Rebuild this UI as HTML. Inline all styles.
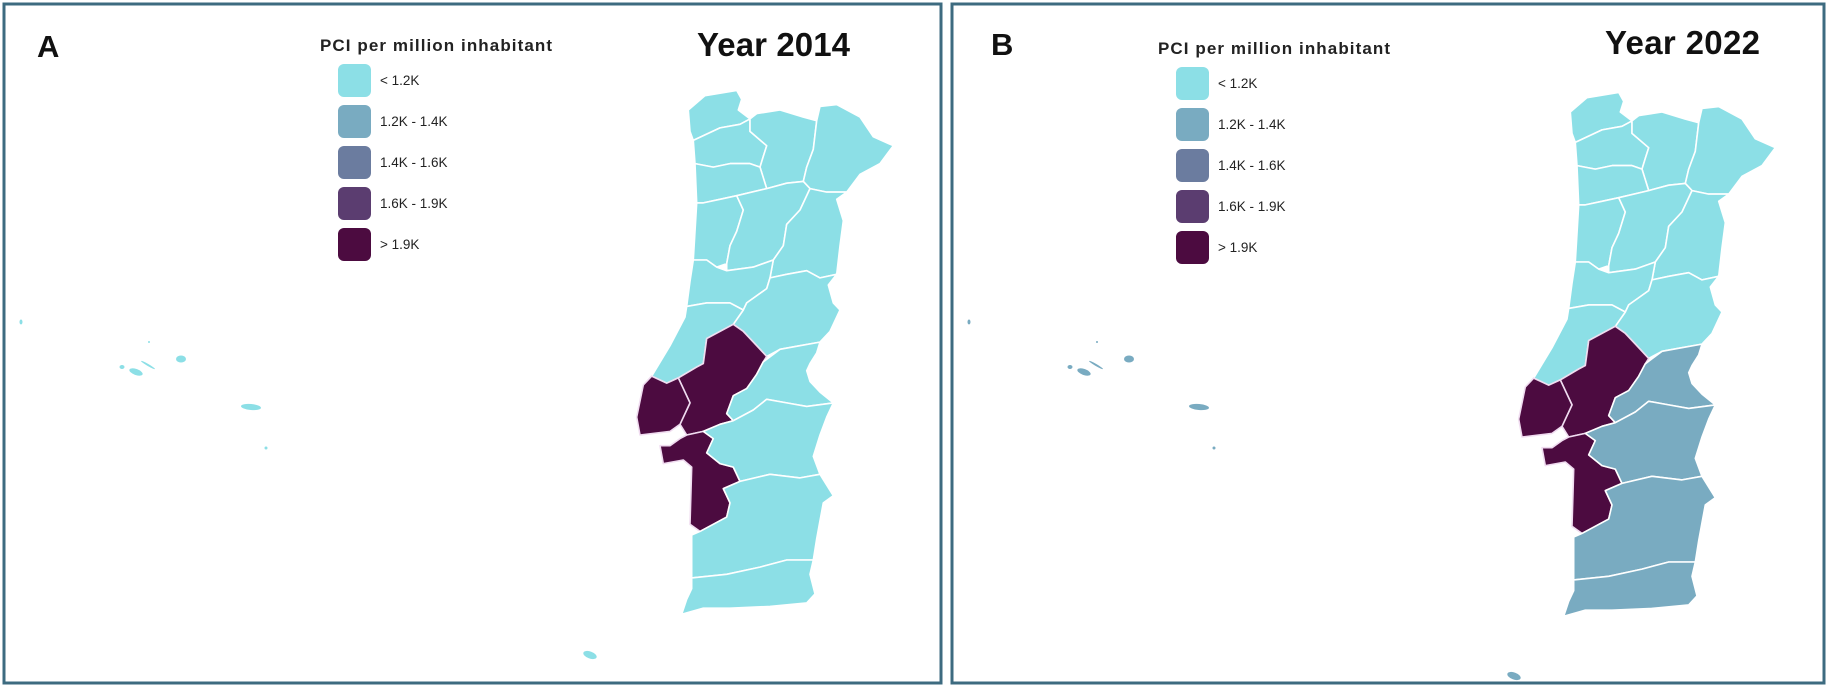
<!DOCTYPE html>
<html><head><meta charset="utf-8">
<style>
html,body{margin:0;padding:0;background:#fff;}
svg{display:block;font-family:"Liberation Sans",sans-serif;}
</style></head>
<body>
<svg id="fig" width="1830" height="689" viewBox="0 0 1830 689" xmlns="http://www.w3.org/2000/svg">
<rect x="0" y="0" width="1830" height="689" fill="#fff"/>
<rect x="4" y="4" width="937" height="679" fill="#fff" stroke="#3d6b80" stroke-width="3"/>
<rect x="952" y="4" width="872" height="679" fill="#fff" stroke="#3d6b80" stroke-width="3"/>
<text x="37" y="57" font-size="31" font-weight="bold" fill="#111">A</text>
<text x="991" y="55" font-size="31" font-weight="bold" fill="#111">B</text>
<text x="697" y="56" font-size="33" font-weight="bold" fill="#111" textLength="153">Year 2014</text>
<text x="1605" y="54" font-size="33" font-weight="bold" fill="#111" textLength="155">Year 2022</text>
<g id="mapA"></g>
<g id="mapB"></g>
<g id="legA"></g>
<g id="legB"></g>
</svg>
<script>
// ---- data ----
const classLabels = ["< 1.2K", "1.2K - 1.4K", "1.4K - 1.6K", "1.6K - 1.9K", "> 1.9K"];
const classColors = ["#8cdfe6", "#79abc1", "#6b7c9f", "#5b3d70", "#4c0b40"];
const districts = ["viana-do-castelo","braga","vila-real","braganca","porto","aveiro","viseu","guarda","coimbra","castelo-branco","leiria","santarem","lisboa","setubal","portalegre","evora","beja","faro","azores","madeira"];
const class2014 = [0,0,0,0,0,0,0,0,0,0,0,4,4,4,0,0,0,0,0,0];
const class2022 = [0,0,0,0,0,0,0,0,0,0,0,4,4,4,1,1,1,1,1,1];

// ---- geometry (shape outlines, local map coords) ----
const shapes = {
 "viana-do-castelo":[[205,140],[255,100],[350,85],[365,110],[355,140],[390,165],[360,180],[300,190],[220,225],[210,200]],
 "braga":[[220,225],[300,190],[360,180],[390,165],[390,200],[440,240],[430,270],[420,300],[390,290],[330,290],[280,300],[225,290]],
 "vila-real":[[390,165],[410,150],[480,140],[550,160],[590,170],[580,250],[560,300],[550,340],[500,345],[440,360],[420,300],[430,270],[440,240],[390,200]],
 "braganca":[[590,170],[600,130],[650,125],[720,160],[760,215],[820,240],[780,290],[720,320],[680,370],[620,370],[570,360],[550,340],[560,300],[580,250]],
 "porto":[[225,290],[280,300],[330,290],[390,290],[420,300],[440,360],[350,380],[300,390],[250,400],[230,400]],
 "aveiro":[[230,400],[250,400],[300,390],[350,380],[370,420],[350,480],[330,520],[320,570],[290,580],[260,560],[220,560]],
 "viseu":[[350,380],[440,360],[500,345],[550,340],[570,360],[540,420],[500,460],[490,520],[460,560],[400,580],[320,590],[320,570],[330,520],[350,480],[370,420]],
 "guarda":[[570,360],[620,370],[680,370],[650,390],[670,450],[660,520],[650,600],[600,610],[560,590],[500,600],[450,610],[460,560],[490,520],[500,460],[540,420]],
 "coimbra":[[220,560],[260,560],[290,580],[320,590],[400,580],[460,560],[450,610],[440,640],[380,680],[370,700],[330,680],[260,680],[200,690],[210,620]],
 "castelo-branco":[[450,610],[500,600],[560,590],[600,610],[650,600],[625,630],[640,680],[660,700],[630,760],[600,790],[540,800],[480,810],[440,830],[400,790],[370,760],[340,740],[370,700],[380,680],[440,640]],
 "leiria":[[200,690],[260,680],[330,680],[370,700],[340,740],[300,760],[260,780],[250,850],[230,860],[175,890],[140,905],[95,885],[150,800],[195,720]],
 "santarem":[[260,780],[300,760],[340,740],[370,760],[400,790],[440,830],[430,845],[410,880],[380,920],[340,940],[320,990],[340,1010],[300,1020],[250,1040],[200,1050],[180,1020],[210,960],[175,890],[230,860],[250,850]],
 "lisboa":[[60,1050],[50,1000],[70,910],[95,885],[140,905],[175,890],[210,960],[180,1020],[150,1040]],
 "setubal":[[120,1080],[130,1130],[190,1120],[215,1140],[210,1300],[240,1320],[320,1280],[330,1240],[310,1200],[360,1180],[340,1140],[300,1130],[260,1100],[280,1060],[250,1040],[200,1050],[180,1060],[150,1080]],
 "portalegre":[[340,940],[380,920],[410,880],[430,845],[480,810],[540,800],[600,790],[590,820],[570,850],[560,870],[570,900],[600,930],[640,960],[560,970],[500,960],[440,950],[400,980],[340,1010],[320,990]],
 "evora":[[340,1010],[400,980],[440,950],[500,960],[560,970],[640,960],[620,1000],[600,1050],[580,1110],[600,1160],[540,1170],[450,1160],[360,1180],[340,1140],[300,1130],[260,1100],[280,1060],[250,1040],[300,1020]],
 "beja":[[360,1180],[450,1160],[540,1170],[600,1160],[640,1220],[610,1240],[600,1290],[590,1340],[580,1400],[500,1400],[420,1420],[320,1440],[215,1450],[215,1330],[240,1320],[320,1280],[330,1240],[310,1200]],
 "faro":[[215,1450],[320,1440],[420,1420],[500,1400],[580,1400],[570,1440],[585,1495],[560,1520],[450,1530],[330,1535],[250,1535],[185,1552],[200,1510],[215,1480]]
};
// island ellipses: [cx, cy, rx, ry, rot] in panel-A absolute coords
const azoresIsl = [[21,322,1.5,2.5,0],[149,342,1,1,0],[122,367,2.5,2,0],[136,372,7,3,20],[148,365,8,1,30],[181,359,5,3.5,0],[251,407,10,3,5],[266,448,1.5,1.5,0]];

const NS = "http://www.w3.org/2000/svg";
function color(c){ return classColors[c]; }
function drawMap(g, classes, dx, dy, islDx, madeiraPos){
  const X = zx => 620 + zx/3 + dx;
  const Y = zy => 60 + zy/2.8 + dy;
  districts.forEach((d,i)=>{
    if(!shapes[d]) return;
    const p = document.createElementNS(NS,"polygon");
    p.setAttribute("points", shapes[d].map(q=>X(q[0]).toFixed(1)+","+Y(q[1]).toFixed(1)).join(" "));
    p.setAttribute("fill", color(classes[i]));
    p.setAttribute("stroke", classes[i]===4 ? "#f0dcf0" : "#ffffff");
    p.setAttribute("stroke-width","1.6");
    p.setAttribute("stroke-linejoin","round");
    
    
    g.appendChild(p);
  });
  const isl = (arr, ci, name, ox)=>arr.forEach(e=>{
    const el = document.createElementNS(NS,"ellipse");
    el.setAttribute("cx", e[0]+ox); el.setAttribute("cy", e[1]);
    el.setAttribute("rx", e[2]); el.setAttribute("ry", e[3]);
    el.setAttribute("transform", "rotate("+e[4]+" "+(e[0]+ox)+" "+e[1]+")");
    el.setAttribute("fill", color(classes[ci]));
    
    
    g.appendChild(el);
  });
  isl(azoresIsl, districts.indexOf("azores"), "azores-island", islDx);
  isl([[madeiraPos[0],madeiraPos[1],7,3.5,20]], districts.indexOf("madeira"), "madeira-island", 0);
}
function drawLegend(g, x0, y0){
  const t = document.createElementNS(NS,"text");
  t.setAttribute("x", x0-18); t.setAttribute("y", y0-13);
  t.setAttribute("font-size","17"); t.setAttribute("font-weight","bold");
  t.setAttribute("fill","#222"); t.setAttribute("textLength","232");
  t.textContent = "PCI per million inhabitant";
  
  
  g.appendChild(t);
  classLabels.forEach((lab,i)=>{
    const r = document.createElementNS(NS,"rect");
    r.setAttribute("x", x0); r.setAttribute("y", y0+41*i);
    r.setAttribute("width",33); r.setAttribute("height",33);
    r.setAttribute("rx",6); r.setAttribute("fill", classColors[i]);
    
    
    g.appendChild(r);
    const tx = document.createElementNS(NS,"text");
    tx.setAttribute("x", x0+42); tx.setAttribute("y", y0+41*i+21);
    tx.setAttribute("font-size","13.5"); tx.setAttribute("fill","#222");
    tx.textContent = lab;
    
    
    g.appendChild(tx);
  });
}
drawMap(document.getElementById("mapA"), class2014, 0, 0, 0, [590,655]);
drawMap(document.getElementById("mapB"), class2022, 882, 2, 948, [1514,676]);
drawLegend(document.getElementById("legA"), 338, 64);
drawLegend(document.getElementById("legB"), 1176, 67);
</script>
</body></html>
